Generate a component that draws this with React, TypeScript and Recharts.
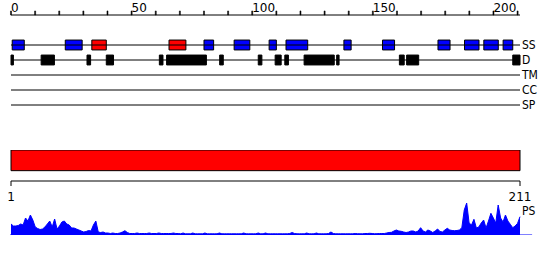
import { ComposedChart, AreaChart, Area, Line, XAxis, YAxis, ReferenceArea, ReferenceLine } from "recharts";

const SEQ_LENGTH = 211;
const FONT = "'DejaVu Sans', sans-serif";
const LABEL_FONT = "'DejaVu Sans Condensed', 'DejaVu Sans', sans-serif";

// top ruler: a tick every 10 residues, labelled every 50
const RULER_TICKS = [0, 10, 20, 30, 40, 50, 60, 70, 80, 90, 100, 110, 120, 130, 140, 150, 160, 170, 180, 190, 200, 210];
const END_TICKS = [1, 211];

// feature tracks, top to bottom
const TRACKS = ["SS", "D", "TM", "CC", "SP"];

// secondary structure (start, end)
const HELIX: [number, number][] = [
  [0.5, 5.5], [22.5, 29.5], [80, 84], [92.5, 99], [107, 110], [114, 123],
  [138, 141], [154, 159], [177, 182], [188, 194], [196, 202], [204, 208],
];
const STRAND: [number, number][] = [[33.5, 39.5], [65.5, 72.5]];

// disordered regions
const DISORDER: [number, number][] = [
  [0, 1], [12.5, 18], [31.5, 33], [39.5, 42.5], [61.5, 63], [64.5, 81],
  [86.5, 88], [102.5, 104], [109.5, 112], [113.5, 115], [121.5, 134],
  [135, 136], [161, 163], [164, 169], [208, 211],
];

// PS profile, one value per residue
const PS_SCORES = [
  11, 9, 9, 9.5, 11, 10, 17, 14, 20, 15,
  8, 6.5, 5.5, 6, 8, 11, 14, 8, 16, 6,
  9, 13, 14, 11, 10, 7, 7, 6, 5, 4,
  3, 3.5, 4.5, 4, 10, 14, 3, 2.5, 3, 2,
  2, 1.5, 2, 1.5, 1.5, 2, 3, 4.3, 2.5, 1.5,
  1.5, 1.5, 2, 1.5, 1.5, 1.5, 1.5, 2, 1.5, 1.5,
  1.5, 2, 1.5, 1.5, 1.5, 1.5, 1.5, 2, 1.5, 1.5,
  1.2, 2, 1.2, 1.2, 1.2, 2, 1.2, 1.2, 1.2, 1.2,
  2, 1.2, 1.2, 1.2, 1.2, 1.2, 2, 1.2, 1.2, 1.2,
  1.2, 1.2, 1.2, 1.2, 1.2, 1.2, 2, 1.2, 1.2, 1.2,
  1.2, 1.2, 2, 1.2, 1.2, 2, 1.2, 1.2, 1.2, 1.2,
  1.2, 1.2, 1.2, 1.2, 1.2, 1.5, 2.5, 1.5, 1.2, 1.2,
  1.2, 1.2, 2, 1.2, 1.2, 1.2, 2, 1.2, 1.2, 1.2,
  1.2, 1.5, 3, 1.5, 1.2, 1.2, 1.2, 1.2, 1.2, 1.2,
  1.2, 1.2, 1.5, 1.3, 1.2, 1.2, 1.5, 1.5, 1.7, 1.5,
  1.3, 1.3, 1.5, 1.5, 1.5, 2, 2.5, 2.7, 4, 5,
  4, 3.7, 3, 2.5, 3, 4, 4, 3, 4, 7.3,
  4, 3, 5, 4, 2.5, 4, 6, 3.5, 3, 5,
  6.7, 5, 4.5, 4.3, 4.5, 5, 7.3, 25, 32, 12,
  10, 15.7, 7, 8, 12, 15, 7, 14, 21.7, 17,
  12, 30, 17, 13, 20, 14, 10.7, 7.3, 9, 11.7, 18.3,
];

const PS_MAX = 33;
const PS_LABEL_AT = 24.5;

const psData = PS_SCORES.map((score, i) => ({ pos: i + 1, score }));
// anchor rows so the charts without a real series still build their scales
const rulerData = RULER_TICKS.map((pos) => ({ pos, v: 0 }));
const endData = END_TICKS.map((pos) => ({ pos, v: 0 }));

// vertical layout of the feature panel, in track units (1 unit = one track row)
const RULER_Y = TRACKS.length + 2;
const TRACK_TOP = RULER_Y + 1 / 3;
const RULER_TICK_LEN = 0.27;
const RULER_TICK_HALF = 0.22;
const BOX = 0.33;
const trackY = (name: string) => TRACKS.length - TRACKS.indexOf(name);

function RulerLabel({ x, y, payload }: any) {
  if (payload.value % 50 !== 0) return <g />;
  return (
    <text x={x} y={y + 2} fontSize={12} fontFamily={FONT} fill="#000" textAnchor="start">
      {payload.value}
    </text>
  );
}

function segments(list: [number, number][], track: string, color: string) {
  const k = trackY(track);
  return list.map(([a, b], i) => (
    <ReferenceArea
      key={`${track}-${color}-${i}`}
      x1={a}
      x2={b}
      y1={k - BOX}
      y2={k + BOX}
      fill={color}
      fillOpacity={1}
      stroke="#000"
      strokeWidth={1}
      ifOverflow="visible"
    />
  ));
}

export default function App() {
  return (
    <div style={{ position: "absolute", left: 0, top: 0, width: 550, height: 260, background: "#fff" }}>
      <div style={{ position: "absolute", left: 0, top: 0 }}>
        <ComposedChart width={550} height={125} data={rulerData} margin={{ top: 0, right: 0, bottom: 5, left: 11 }}>
          <XAxis
            type="number"
            dataKey="pos"
            orientation="top"
            domain={[0, SEQ_LENGTH]}
            ticks={RULER_TICKS}
            interval={0}
            height={10}
            tickSize={0}
            tickMargin={0}
            axisLine={false}
            tickLine={false}
            tick={RulerLabel}
          />
          <YAxis
            type="number"
            orientation="right"
            domain={[0, TRACK_TOP]}
            ticks={TRACKS.map(trackY)}
            interval={0}
            tickFormatter={(v: number) => TRACKS[TRACKS.length - v] ?? ""}
            width={30}
            tickSize={0}
            tickMargin={2}
            axisLine={false}
            tickLine={false}
            tick={{ fill: "#000", fontSize: 12, fontFamily: LABEL_FONT }}
          />
          <Line dataKey="v" stroke="none" dot={false} activeDot={false} isAnimationActive={false} />
          <ReferenceLine y={RULER_Y} stroke="#000" strokeWidth={1} />
          {RULER_TICKS.map((t) => (
            <ReferenceArea
              key={`tick-${t}`}
              x1={t - RULER_TICK_HALF}
              x2={t + RULER_TICK_HALF}
              y1={RULER_Y}
              y2={RULER_Y + RULER_TICK_LEN}
              fill="#000"
              fillOpacity={1}
              stroke="#000"
              strokeWidth={0.5}
              ifOverflow="visible"
            />
          ))}
          {TRACKS.map((t) => (
            <ReferenceLine key={t} y={trackY(t)} stroke="#000" strokeWidth={1} />
          ))}
          {segments(HELIX, "SS", "#0000ff")}
          {segments(STRAND, "SS", "#ff0000")}
          {segments(DISORDER, "D", "#000000")}
        </ComposedChart>
      </div>

      <div style={{ position: "absolute", left: 0, top: 150 }}>
        <ComposedChart width={550} height={56} data={endData} margin={{ top: 0, right: 30, bottom: 0, left: 11 }}>
          <XAxis
            type="number"
            dataKey="pos"
            domain={[1, SEQ_LENGTH]}
            ticks={END_TICKS}
            interval={0}
            height={25}
            tickSize={5}
            tickMargin={6}
            stroke="#000"
            tickLine={{ stroke: "#000" }}
            tick={{ fill: "#000", fontSize: 12, fontFamily: FONT }}
          />
          <YAxis type="number" domain={[0, 3]} hide />
          <Line dataKey="v" stroke="none" dot={false} activeDot={false} isAnimationActive={false} />
          <ReferenceArea x1={1} x2={SEQ_LENGTH} y1={1} y2={3} fill="#ff0000" fillOpacity={1} stroke="#000" strokeWidth={1} />
        </ComposedChart>
      </div>

      <div style={{ position: "absolute", left: 0, top: 195 }}>
        <AreaChart width={550} height={40} data={psData} margin={{ top: 7, right: 0, bottom: 0, left: 11 }}>
          <XAxis type="number" dataKey="pos" domain={[1, SEQ_LENGTH]} hide />
          <YAxis
            type="number"
            orientation="right"
            domain={[0, PS_MAX]}
            ticks={[PS_LABEL_AT]}
            interval={0}
            tickFormatter={() => "PS"}
            width={30}
            tickSize={0}
            tickMargin={2}
            axisLine={false}
            tickLine={false}
            tick={{ fill: "#000", fontSize: 12, fontFamily: LABEL_FONT }}
          />
          <Area
            type="linear"
            dataKey="score"
            stroke="#0000ff"
            strokeWidth={1}
            fill="#0000ff"
            fillOpacity={1}
            dot={false}
            activeDot={false}
            isAnimationActive={false}
          />
          <ReferenceLine
            segment={[{ x: 0.6, y: 0 }, { x: SEQ_LENGTH + 5, y: 0 }]}
            stroke="#0000ff"
            strokeWidth={1}
            ifOverflow="visible"
          />
        </AreaChart>
      </div>
    </div>
  );
}
